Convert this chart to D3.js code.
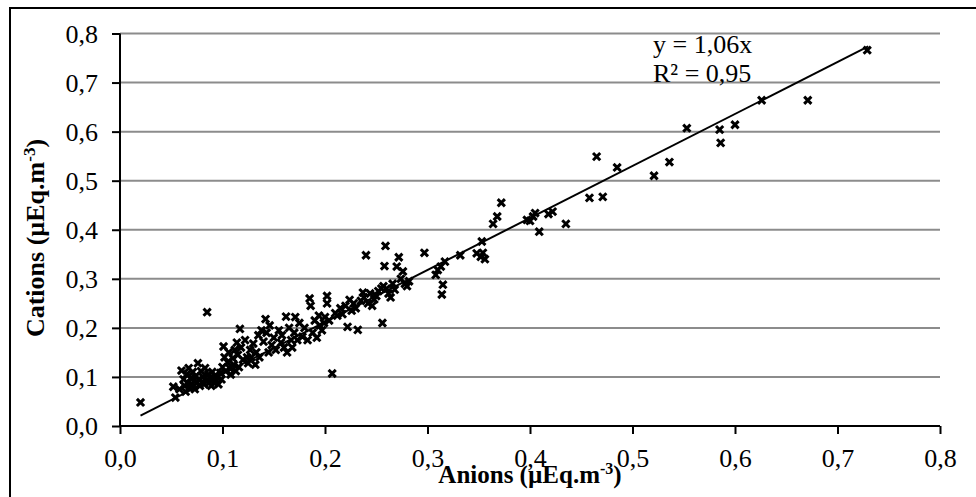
<!DOCTYPE html>
<html>
<head>
<meta charset="utf-8">
<script src="https://cdn.jsdelivr.net/npm/d3@7"></script>
<style>
    body { margin: 0; background: #fff; }
    svg { display: block; font-family: "Liberation Serif", "Times New Roman", serif; }
</style>
</head>
<body>
<svg id="chart" width="976" height="497"></svg>
<script>
// data (µEq.m-3)
const anions = [
    0.020, 0.052, 0.054, 0.058, 0.060, 0.062, 0.063, 0.064, 0.065, 0.066,
    0.067, 0.068, 0.069, 0.070, 0.071, 0.072, 0.073, 0.074, 0.075, 0.076,
    0.077, 0.078, 0.079, 0.080, 0.081, 0.082, 0.083, 0.084, 0.085, 0.086,
    0.087, 0.088, 0.089, 0.090, 0.091, 0.092, 0.093, 0.094, 0.095, 0.096,
    0.098, 0.099, 0.100, 0.101, 0.102, 0.103, 0.105, 0.106, 0.107, 0.108,
    0.110, 0.111, 0.112, 0.113, 0.114, 0.115, 0.116, 0.117, 0.118, 0.120,
    0.122, 0.124, 0.125, 0.127, 0.128, 0.130, 0.132, 0.133, 0.135, 0.136,
    0.138, 0.140, 0.142, 0.143, 0.145, 0.146, 0.148, 0.150, 0.152, 0.155,
    0.157, 0.158, 0.160, 0.162, 0.163, 0.165, 0.167, 0.168, 0.170, 0.171,
    0.173, 0.175, 0.178, 0.180, 0.183, 0.185, 0.186, 0.188, 0.190, 0.192,
    0.194, 0.195, 0.197, 0.199, 0.200, 0.202, 0.202, 0.204, 0.207, 0.210,
    0.212, 0.215, 0.217, 0.220, 0.222, 0.224, 0.226, 0.228, 0.230, 0.232,
    0.235, 0.237, 0.238, 0.240, 0.242, 0.244, 0.246, 0.248, 0.250, 0.252,
    0.255, 0.256, 0.257, 0.258, 0.259, 0.260, 0.262, 0.264, 0.266, 0.268,
    0.270, 0.272, 0.274, 0.276, 0.278, 0.280, 0.282, 0.297, 0.308, 0.310,
    0.313, 0.314, 0.315, 0.317, 0.332, 0.348, 0.352, 0.353, 0.354, 0.356,
    0.364, 0.368, 0.372, 0.397, 0.400, 0.403, 0.405, 0.409, 0.418, 0.422,
    0.435, 0.458, 0.465, 0.471, 0.485, 0.521, 0.536, 0.553, 0.585, 0.586,
    0.600, 0.626, 0.671, 0.729
]
const cations = [
    0.048, 0.080, 0.058, 0.075, 0.113, 0.095, 0.082, 0.070, 0.105, 0.088,
    0.118, 0.078, 0.098, 0.085, 0.110, 0.092, 0.075, 0.102, 0.088, 0.128,
    0.095, 0.082, 0.112, 0.090, 0.100, 0.085, 0.118, 0.093, 0.232, 0.105,
    0.088, 0.098, 0.082, 0.110, 0.095, 0.087, 0.103, 0.092, 0.100, 0.085,
    0.108, 0.095, 0.120, 0.162, 0.140, 0.112, 0.130, 0.150, 0.118, 0.105,
    0.138, 0.125, 0.155, 0.112, 0.170, 0.145, 0.120, 0.198, 0.160, 0.135,
    0.175, 0.140, 0.128, 0.155, 0.140, 0.168, 0.125, 0.150, 0.185, 0.140,
    0.195, 0.172, 0.218, 0.190, 0.150, 0.205, 0.165, 0.180, 0.155, 0.195,
    0.170, 0.185, 0.160, 0.223, 0.150, 0.200, 0.175, 0.160, 0.190, 0.222,
    0.175, 0.210, 0.182, 0.200, 0.175, 0.260, 0.245, 0.190, 0.215, 0.180,
    0.225, 0.205, 0.195, 0.210, 0.222, 0.265, 0.250, 0.215, 0.107, 0.230,
    0.225, 0.240, 0.228, 0.245, 0.202, 0.257, 0.235, 0.250, 0.240, 0.196,
    0.255, 0.272, 0.262, 0.348, 0.250, 0.270, 0.245, 0.258, 0.265, 0.275,
    0.280, 0.210, 0.285, 0.326, 0.367, 0.280, 0.270, 0.262, 0.290, 0.278,
    0.325, 0.344, 0.300, 0.315, 0.290, 0.285, 0.295, 0.353, 0.308, 0.318,
    0.325, 0.268, 0.288, 0.335, 0.348, 0.352, 0.345, 0.376, 0.353, 0.340,
    0.412, 0.427, 0.455, 0.420, 0.418, 0.427, 0.434, 0.396, 0.432, 0.437,
    0.412, 0.465, 0.549, 0.467, 0.527, 0.510, 0.538, 0.607, 0.604, 0.577,
    0.614, 0.664, 0.664, 0.766
]
const xTicks = [0, 0.1, 0.2, 0.3, 0.4, 0.5, 0.6, 0.7, 0.8]
const yTicks = [0, 0.1, 0.2, 0.3, 0.4, 0.5, 0.6, 0.7, 0.8]
const slope = 1.06
const trendRange = [0.02, 0.73]
const equationLines = ['y = 1,06x', 'R² = 0,95']

const fmt = d => d3.format('.1f')(d).replace('.', ',')

const svg = d3.select('#chart')

// outer frame (cut off at right/bottom in the original)
svg.append('rect')
    .attr('x', 10).attr('y', 8)
    .attr('width', 1000).attr('height', 520)
    .attr('fill', 'none')
    .attr('stroke', '#000')
    .attr('stroke-width', 2)

const x = d3.scaleLinear().domain([0, 0.8]).range([120, 940])
const y = d3.scaleLinear().domain([0, 0.8]).range([426, 33.5])

// gridlines
svg.append('g')
    .selectAll('line')
    .data(yTicks.slice(1))
    .join('line')
    .attr('x1', x(0)).attr('x2', x(0.8))
    .attr('y1', d => y(d)).attr('y2', d => y(d))
    .attr('stroke', '#8c8c8c')
    .attr('stroke-width', 2)

// y axis
const yAxis = svg.append('g')
    .attr('transform', `translate(${x(0)},0)`)
    .call(d3.axisLeft(y).tickValues(yTicks).tickFormat(fmt).tickSize(8).tickPadding(14))
yAxis.select('.domain').attr('stroke-width', 2).attr('d', `M0,${y(0)}V${y(0.8)}`)
yAxis.selectAll('.tick line').attr('stroke-width', 2)
yAxis.selectAll('.tick text')
    .attr('font-size', 26)
    .attr('font-family', '"Liberation Serif", serif')
    .attr('fill', '#000')
    .attr('dy', '0.34em')

// x axis
const xAxis = svg.append('g')
    .attr('transform', `translate(0,${y(0)})`)
    .call(d3.axisBottom(x).tickValues(xTicks).tickFormat(fmt).tickSize(8).tickPadding(15))
xAxis.select('.domain').attr('stroke-width', 2).attr('d', `M${x(0)},0H${x(0.8)}`)
xAxis.selectAll('.tick line').attr('stroke-width', 2)
xAxis.selectAll('.tick text')
    .attr('font-size', 26)
    .attr('font-family', '"Liberation Serif", serif')
    .attr('fill', '#000')

// trend line
svg.append('line')
    .attr('x1', x(trendRange[0])).attr('y1', y(trendRange[0] * slope))
    .attr('x2', x(trendRange[1])).attr('y2', y(trendRange[1] * slope))
    .attr('stroke', '#000')
    .attr('stroke-width', 2)

// markers
svg.append('g')
    .selectAll('path')
    .data(anions.map((a, i) => [a, cations[i]]))
    .join('path')
    .attr('transform', d => `translate(${x(d[0])},${y(d[1])})`)
    .attr('d', 'M-3.6,-3.6L3.6,3.6M-3.6,3.6L3.6,-3.6')
    .attr('stroke', '#000')
    .attr('stroke-width', 3)
    .attr('fill', 'none')

// equation
svg.append('g')
    .selectAll('text')
    .data(equationLines)
    .join('text')
    .attr('x', 653)
    .attr('y', (d, i) => 53 + i * 28.5)
    .attr('font-size', 26)
    .text(d => d)

// axis titles
const xTitle = svg.append('text')
    .attr('x', (x(0) + x(0.8)) / 2)
    .attr('y', 483)
    .attr('text-anchor', 'middle')
    .attr('font-size', 25)
    .attr('font-weight', 'bold')
xTitle.append('tspan').text('Anions (µEq.m')
xTitle.append('tspan').attr('dy', -9).attr('font-size', 16).text('-3')
xTitle.append('tspan').attr('dy', 9).text(')')

const yTitle = svg.append('text')
    .attr('transform', 'translate(44,238) rotate(-90)')
    .attr('text-anchor', 'middle')
    .attr('font-size', 26)
    .attr('font-weight', 'bold')
yTitle.append('tspan').text('Cations (µEq.m')
yTitle.append('tspan').attr('dy', -9).attr('font-size', 17).text('-3')
yTitle.append('tspan').attr('dy', 9).text(')')
</script>
</body>
</html>
